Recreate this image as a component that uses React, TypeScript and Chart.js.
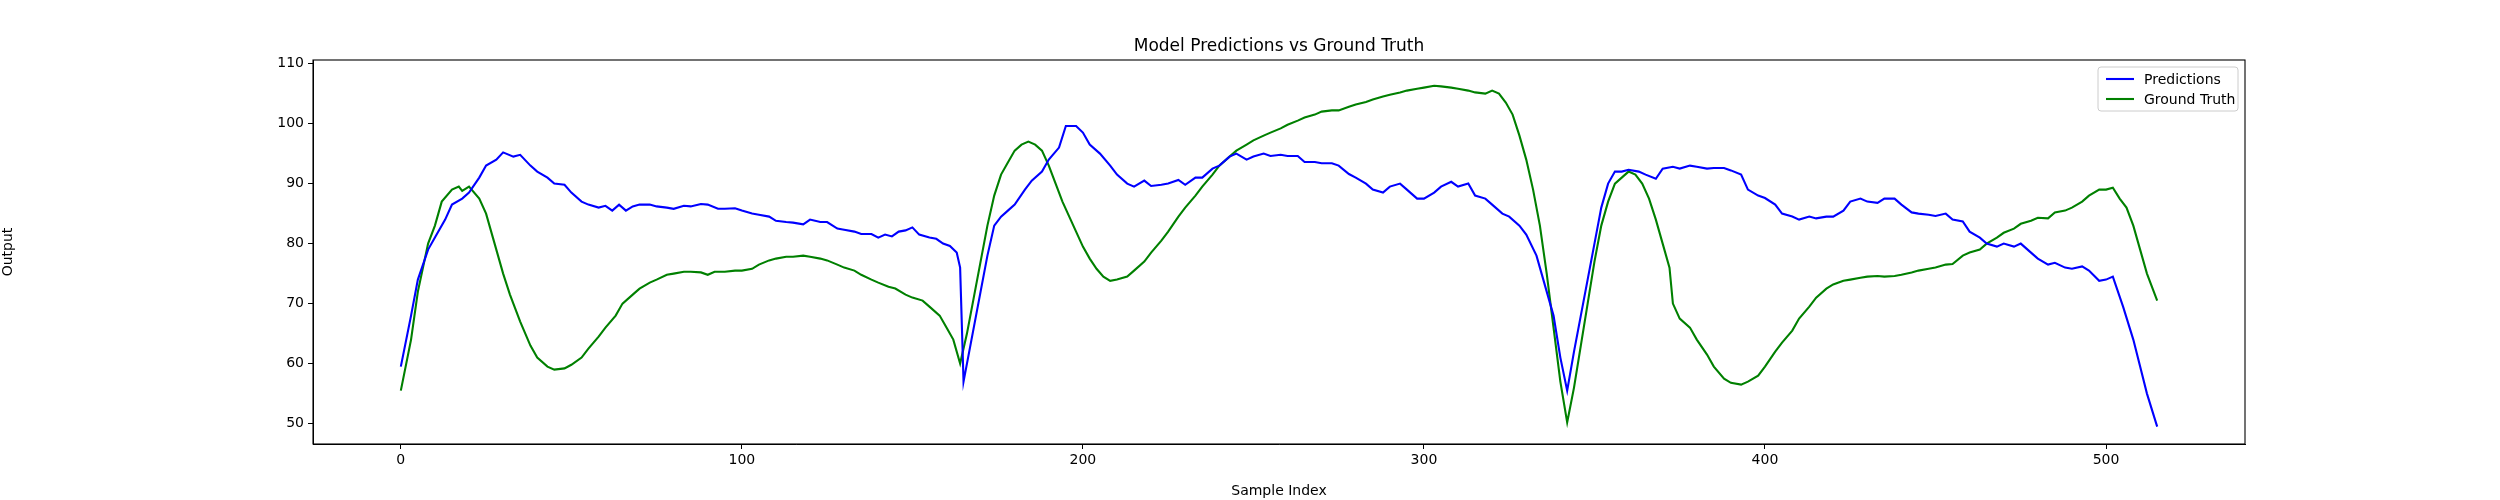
import React, { useEffect, useRef } from "react";
import { Chart, registerables } from "chart.js";
Chart.register(...registerables);

const predIdx = [0,3,5,8,10,13,15,18,20,23,25,28,30,33,35,38,40,43,45,48,50,53,55,58,60,62,64,66,68,70,73,75,78,80,83,85,88,90,93,95,98,100,103,105,108,110,113,115,118,120,123,125,128,130,133,135,138,140,142,144,146,148,150,152,155,157,159,161,163,164,165,167,170,172,174,176,178,180,183,185,188,190,193,195,198,200,202,205,208,210,213,215,218,220,223,225,228,230,233,235,238,240,243,245,248,250,253,255,258,260,263,265,268,270,273,275,278,280,283,285,288,290,293,295,298,300,303,305,308,310,313,315,318,320,323,325,328,330,333,335,338,340,342,344,346,348,350,352,354,356,358,360,363,365,368,370,373,375,378,380,383,385,388,390,393,395,398,400,403,405,408,410,413,415,418,420,423,425,428,430,433,435,438,440,443,445,448,450,453,455,458,460,463,465,468,470,473,475,478,480,483,485,488,490,493,495,498,500,502,505,508,510,512,515];
const predVals = [59.5,68,74,79,81,84,86.5,87.5,88.5,91,93,94,95.2,94.5,94.8,93,92,91,90,89.8,88.5,87,86.5,86,86.3,85.5,86.5,85.5,86.2,86.5,86.5,86.2,86,85.8,86.3,86.2,86.6,86.5,85.8,85.8,85.9,85.5,85,84.8,84.5,83.8,83.6,83.5,83.2,84,83.6,83.6,82.5,82.3,82,81.6,81.6,81,81.5,81.2,82,82.2,82.7,81.5,81,80.8,80,79.6,78.5,76,57,63,72,78,83,84.5,85.5,86.5,89,90.5,92,94,96,99.6,99.6,98.5,96.5,95,93,91.5,90,89.5,90.5,89.6,89.8,90,90.6,89.8,91,91,92.5,93,94.5,95,94,94.5,95,94.6,94.8,94.6,94.6,93.6,93.6,93.4,93.4,93,91.6,91,90,89,88.5,89.5,90,89,87.5,87.5,88.5,89.5,90.3,89.5,90,88,87.5,86.5,85,84.5,83,81.5,78,74,68,61,55.5,62,68,74,80,86,90,92,92,92.3,92,91.5,90.8,92.5,92.8,92.5,93,92.8,92.5,92.6,92.6,92.2,91.5,89,88,87.6,86.5,85,84.5,84,84.5,84.2,84.5,84.5,85.5,87,87.5,87,86.8,87.5,87.5,86.5,85.2,85,84.8,84.6,85,84,83.7,82,81,80,79.5,80,79.5,80,78.5,77.5,76.5,76.8,76,75.8,76.2,75.5,73.8,74,74.5,69.5,64,59.5,55,49.5];

const truthIdx = [0,3,5,8,10,12,15,17,18,20,23,25,27,30,32,35,38,40,43,45,48,50,53,55,58,60,63,65,68,70,73,75,78,80,83,85,88,90,92,95,98,100,103,105,108,110,113,115,118,120,123,125,128,130,133,135,138,140,143,145,148,150,153,155,158,160,162,164,166,168,170,172,174,176,178,180,182,184,186,188,190,192,194,196,198,200,202,204,206,208,210,213,215,218,220,223,225,228,230,233,235,238,240,243,245,248,250,253,255,258,260,263,265,268,270,273,275,278,280,283,285,288,290,293,295,298,300,303,305,308,310,313,315,318,320,322,324,326,328,330,332,334,336,338,340,342,344,346,348,350,352,354,356,358,360,362,364,366,368,370,372,373,375,378,380,383,385,388,390,393,395,398,400,403,405,408,410,413,415,418,420,423,425,428,430,433,435,438,440,443,445,448,450,453,455,458,460,463,465,468,470,473,475,478,480,483,485,488,490,493,495,498,500,502,504,506,508,510,512,515];
const truthVals = [55.5,64,72,80,83,87,89,89.5,88.8,89.5,87.5,85,81,75,71.5,67,63,61,59.5,59,59.2,59.8,61,62.5,64.5,66,68,70,71.5,72.5,73.5,74,74.8,75,75.3,75.3,75.2,74.8,75.3,75.3,75.5,75.5,75.8,76.5,77.2,77.5,77.8,77.8,78,77.8,77.5,77.2,76.5,76,75.5,74.8,74,73.5,72.8,72.5,71.5,71,70.5,69.5,68,66,64,60,65,71,77,83,88,91.5,93.5,95.5,96.5,97,96.5,95.5,93,90,87,84.5,82,79.5,77.5,75.8,74.5,73.8,74,74.5,75.5,77,78.5,80.5,82,84.5,86,88,89.5,91.5,93,94.5,95.5,96.5,97.2,98,98.5,99.2,99.8,100.5,101,101.5,102,102.2,102.2,102.8,103.2,103.6,104,104.5,104.8,105.2,105.5,105.8,106,106.3,106.2,106,105.8,105.5,105.2,105,105.5,105,103.5,101.5,98,94,89,83,75,66,57,50.2,56,63,70,77,83,87,90,91,92,91.5,90,87.5,84,80,76,70,67.5,66,64,61.5,59.5,57.5,56.8,56.5,57,58,59.5,62,63.5,65.5,67.5,69.5,71,72.5,73.2,73.8,74,74.3,74.5,74.6,74.5,74.6,74.8,75.2,75.5,75.8,76,76.5,76.6,78,78.5,79,80,81,81.8,82.5,83.3,83.8,84.3,84.2,85.2,85.5,86,87,88,89,89,89.3,87.5,86,83,79,75,70.5];

const xTicks = [0, 100, 200, 300, 400, 500];
const yTicks = [50, 60, 70, 80, 90, 100, 110];

const FONT = "'DejaVu Sans', sans-serif";

export default function App() {
  const ref = useRef<HTMLCanvasElement>(null);
  useEffect(() => {
    document.body.style.margin = "0";
    const frame = {
      id: "frame",
      afterDraw(c: any) {
        const { ctx, chartArea: a } = c;
        ctx.save();
        ctx.strokeStyle = "black";
        ctx.lineWidth = 1.1;
        ctx.strokeRect(a.left, a.top, a.right - a.left, a.bottom - a.top);
        ctx.fillStyle = "black";
        ctx.font = `17px ${FONT}`;
        ctx.textAlign = "center";
        ctx.textBaseline = "alphabetic";
        ctx.fillText("Model Predictions vs Ground Truth", (a.left + a.right) / 2, a.top - 9);
        // legend
        const bx = 2098, by = 67, bw = 140, bh = 44;
        ctx.fillStyle = "rgba(255,255,255,0.8)";
        ctx.strokeStyle = "#cccccc";
        ctx.lineWidth = 1;
        ctx.beginPath();
        (ctx as any).roundRect(bx, by, bw, bh, 3);
        ctx.fill();
        ctx.stroke();
        const items = [["Predictions", "#0000ff"], ["Ground Truth", "#008000"]];
        ctx.font = `14px ${FONT}`;
        ctx.textAlign = "left";
        ctx.textBaseline = "middle";
        items.forEach(([t, col], i) => {
          const y = by + 12 + i * 20;
          ctx.strokeStyle = col;
          ctx.lineWidth = 2.1;
          ctx.beginPath();
          ctx.moveTo(bx + 8, y);
          ctx.lineTo(bx + 36, y);
          ctx.stroke();
          ctx.fillStyle = "black";
          ctx.fillText(t, bx + 46, y + 1);
        });
        ctx.restore();
      },
    };
    const chart = new Chart(ref.current!, {
      type: "line",
      data: {
        datasets: [
          { label: "Predictions", data: predIdx.map((x, i) => ({ x, y: predVals[i] })), borderColor: "#0000ff", borderWidth: 2.1, pointRadius: 0, tension: 0 },
          { label: "Ground Truth", data: truthIdx.map((x, i) => ({ x, y: truthVals[i] })), borderColor: "#008000", borderWidth: 2.1, pointRadius: 0, tension: 0 },
        ],
      },
      options: {
        animation: false,
        responsive: false,
        layout: { padding: { top: 60, right: 255, left: 0, bottom: 0 } },
        plugins: { legend: { display: false }, tooltip: { enabled: false }, title: { display: false } },
        scales: {
          x: {
            type: "linear", min: -25.75, max: 540.75,
            afterBuildTicks: (s: any) => { s.ticks = xTicks.map((v) => ({ value: v })); },
            afterFit: (s: any) => { s.height = 56; },
            grid: { drawOnChartArea: false, drawTicks: true, tickLength: 5, color: "black" },
            border: { color: "black" },
            ticks: { color: "black", font: { family: FONT, size: 14 }, padding: 3, maxRotation: 0 },
            title: { display: true, text: "Sample Index", color: "black", font: { family: FONT, size: 14 }, padding: { top: 2, bottom: 0 } },
          },
          y: {
            type: "linear", min: 46.6, max: 110.6,
            afterBuildTicks: (s: any) => { s.ticks = yTicks.map((v) => ({ value: v })); },
            afterFit: (s: any) => { s.width = 313; },
            grid: { drawOnChartArea: false, drawTicks: true, tickLength: 5, color: "black" },
            border: { color: "black" },
            ticks: { color: "black", font: { family: FONT, size: 14 }, padding: 4 },
            title: { display: true, text: "Output", color: "black", font: { family: FONT, size: 14 }, padding: { top: 0, bottom: 4 } },
          },
        },
      },
      plugins: [frame],
    } as any);
    return () => chart.destroy();
  }, []);
  return <canvas ref={ref} width={2500} height={500} style={{ display: "block", width: 2500, height: 500 }} />;
}
